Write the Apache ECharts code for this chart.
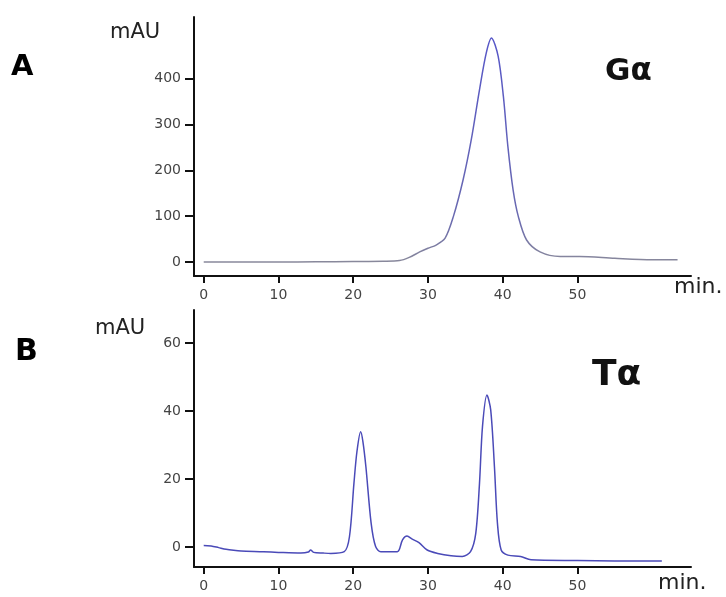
<!DOCTYPE html>
<html>
<head>
<meta charset="utf-8">
<script src="https://cdn.jsdelivr.net/npm/echarts@6/dist/echarts.min.js"></script>
<style>html,body{margin:0;padding:0;background:#fff}#c{width:726px;height:597px}</style>
</head>
<body>
<div id="c"></div>
<script>
// Panel A (Gα)
var timeA = [0, 5, 10, 15, 20, 24, 26.2, 27.5, 28.9, 30, 31.1, 32.3, 33.4, 34.7, 35.8, 36.9, 37.8, 38.5, 39.4, 40.1, 40.7, 41.4, 42.1, 43.2, 45.0, 47.7, 50.3, 55, 60, 63.4];
var valueA = [0, 0, 0, 0.5, 1, 1.5, 3, 10, 22, 30, 37, 52, 99, 179, 267, 376, 456, 489, 449, 361, 252, 157, 99, 48, 22, 12, 12, 8, 5, 5];
// Panel B (Tα)
var timeB = [0, 1, 2, 3, 4, 5, 8, 10, 13, 14, 14.3, 14.7, 16, 17, 18.8, 19.5, 20.1, 20.5, 21.0, 21.3, 21.7, 22.4, 23.0, 23.7, 25.9, 26.6, 27.2, 27.9, 28.8, 29.9, 31.3, 33.1, 34.6, 35.7, 36.4, 36.9, 37.3, 37.9, 38.4, 38.9, 39.3, 39.8, 40.7, 42.4, 43.8, 50, 55, 61.3];
var valueB = [0.4, 0.3, -0.2, -0.7, -1.0, -1.2, -1.4, -1.6, -1.8, -1.5, -0.9, -1.6, -1.8, -1.9, -1.4, 3.0, 18.7, 28, 33.9, 31, 23.6, 7.0, 0.1, -1.4, -1.4, 2.1, 3.2, 2.3, 1.3, -0.9, -1.9, -2.6, -2.8, -1.4, 4.0, 18.7, 35.4, 44.7, 40.3, 23.6, 7.0, -0.9, -2.4, -2.8, -3.8, -4.0, -4.1, -4.1];
// tick labels
var xTicks = [0, 10, 20, 30, 40, 50];
var yTicksA = [0, 100, 200, 300, 400];
var yTicksB = [0, 20, 40, 60];

function zip(a, b) { return a.map(function (t, i) { return [t, b[i]]; }); }

var chart = echarts.init(document.getElementById('c'), null, { renderer: 'canvas' });
var lblStyle = { color: '#444', fontFamily: 'DejaVu Sans', fontSize: 14 };
function xAxis(idx) {
  return {
    type: 'value', gridIndex: idx, min: -1.3, max: 65.2,
    splitLine: { show: false },
    axisLine: { onZero: false, lineStyle: { color: '#111', width: 2 } },
    axisTick: { customValues: xTicks, length: 7, lineStyle: { color: '#111', width: 2 } },
    axisLabel: Object.assign({ customValues: xTicks, margin: 12 }, lblStyle)
  };
}
function yAxis(idx, min, max, ticks) {
  return {
    type: 'value', gridIndex: idx, min: min, max: max,
    splitLine: { show: false },
    axisLine: { show: true, onZero: false, lineStyle: { color: '#111', width: 2 } },
    axisTick: { show: true, customValues: ticks, length: 9, lineStyle: { color: '#111', width: 2 } },
    axisLabel: Object.assign({ customValues: ticks, margin: 13 }, lblStyle)
  };
}
chart.setOption({
  animation: false,
  backgroundColor: '#fff',
  grid: [
    { left: 194, right: 35, top: 17, height: 259 },
    { left: 194, right: 35, top: 310, height: 257 }
  ],
  xAxis: [xAxis(0), xAxis(1)],
  yAxis: [yAxis(0, -30.6, 535, yTicksA), yAxis(1, -5.9, 69.7, yTicksB)],
  graphic: [
    { type: 'text', left: 11, top: 53, style: { text: 'A', font: 'bold 29px "DejaVu Sans"', fill: '#000' } },
    { type: 'text', left: 15, top: 337, style: { text: 'B', font: 'bold 30px "DejaVu Sans"', fill: '#000' } },
    { type: 'text', left: 110, top: 22, style: { text: 'mAU', font: '21px "DejaVu Sans"', fill: '#222' } },
    { type: 'text', left: 95, top: 318, style: { text: 'mAU', font: '21px "DejaVu Sans"', fill: '#222' } },
    { type: 'text', left: 605, top: 56, style: { text: 'Gα', font: 'bold 31px "DejaVu Sans"', fill: '#111' } },
    { type: 'text', left: 592, top: 358, style: { text: 'Tα', font: 'bold 36px "DejaVu Sans"', fill: '#111' } },
    { type: 'text', left: 674, top: 276, style: { text: 'min.', font: '22px "DejaVu Sans"', fill: '#222' } },
    { type: 'text', left: 658, top: 572, style: { text: 'min.', font: '22px "DejaVu Sans"', fill: '#222' } }
  ],
  series: [
    {
      type: 'line', xAxisIndex: 0, yAxisIndex: 0, data: zip(timeA, valueA),
      showSymbol: false, smooth: 0.3,
      lineStyle: {
        width: 1.5,
        color: new echarts.graphic.LinearGradient(0, 0, 0, 1, [
          { offset: 0, color: '#5656c8' }, { offset: 0.8, color: '#6a6ab0' }, { offset: 1, color: '#8a8a9a' }
        ])
      }
    },
    {
      type: 'line', xAxisIndex: 1, yAxisIndex: 1, data: zip(timeB, valueB),
      showSymbol: false, smooth: 0.3,
      lineStyle: { width: 1.5, color: '#4a4ab8' }
    }
  ]
});
</script>
</body>
</html>
